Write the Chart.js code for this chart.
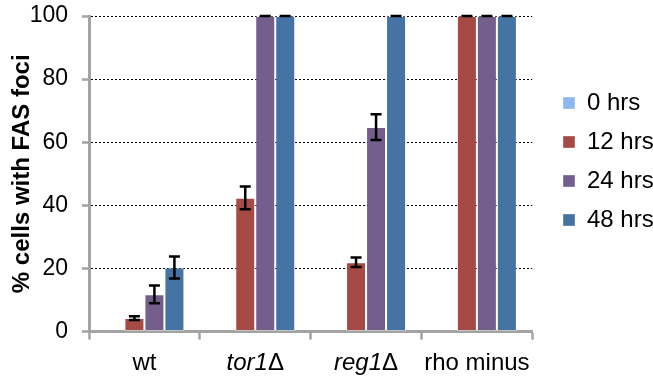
<!DOCTYPE html>
<html>
<head>
<meta charset="utf-8">
<script src="https://cdn.jsdelivr.net/npm/chart.js@4/dist/chart.umd.min.js"></script>
<style>
  html, body { margin: 0; padding: 0; background: #fff; }
  #wrap { width: 653px; height: 383px; }
</style>
</head>
<body>
<div id="wrap"><canvas id="chart"></canvas></div>
<script>
// categories and values (% cells with FAS foci)
const categories = ["wt", "tor1Δ", "reg1Δ", "rho minus"];
const seriesNames = ["0 hrs", "12 hrs", "24 hrs", "48 hrs"];
const hrs0 = [0, 0, 0, 0];
const hrs12 = [4.3, 42.4, 22.0, 100];
const hrs24 = [11.8, 100, 64.8, 100];
const hrs48 = [20.3, 100, 100, 100];
// error bar half-lengths (null = no bar drawn)
const err0 = [null, null, null, null];
const err12 = [0.6, 3.6, 1.5, 0];
const err24 = [2.8, 0, 4.1, 0];
const err48 = [3.5, 0, 0, 0];

// how each label is split into italic / upright pieces
const labelParts = {
    "wt": [["wt", false]],
    "tor1Δ": [["tor1", true], ["Δ", false]],
    "reg1Δ": [["reg1", true], ["Δ", false]],
    "rho minus": [["rho minus", false]],
};

const colors = ["#8db9ec", "#a54a44", "#745e8c", "#4573a3"];
const axisGray = "#a3a3a3";
const FONT = "'Liberation Sans', Arial, sans-serif";

const errorBars = {
    id: "errorBars",
    afterDatasetsDraw(chart) {
        const { ctx } = chart;
        const yScale = chart.scales.y;
        chart.data.datasets.forEach((ds, i) => {
            const meta = chart.getDatasetMeta(i);
            meta.data.forEach((bar, j) => {
                const e = ds.errors[j];
                if (e === null || e === undefined) return;
                const v = ds.data[j];
                const yTop = yScale.getPixelForValue(v + e);
                const yBot = yScale.getPixelForValue(v - e);
                ctx.save();
                ctx.strokeStyle = "#000";
                ctx.lineWidth = 2.5;
                ctx.beginPath();
                ctx.moveTo(bar.x, yTop);
                ctx.lineTo(bar.x, yBot);
                ctx.moveTo(bar.x - 5.5, yTop);
                ctx.lineTo(bar.x + 5.5, yTop);
                ctx.moveTo(bar.x - 5.5, yBot);
                ctx.lineTo(bar.x + 5.5, yBot);
                ctx.stroke();
                ctx.restore();
            });
        });
    },
};

// category labels with italic gene names
const mixedLabels = {
    id: "mixedLabels",
    afterDraw(chart) {
        const { ctx } = chart;
        const xScale = chart.scales.x;
        ctx.save();
        ctx.fillStyle = "#000";
        ctx.textBaseline = "middle";
        ctx.textAlign = "left";
        categories.forEach((cat, i) => {
            const parts = labelParts[cat];
            let total = 0;
            parts.forEach(([t, it]) => {
                ctx.font = (it ? "italic " : "") + "24px " + FONT;
                total += ctx.measureText(t).width;
            });
            let x = xScale.getPixelForValue(i) - total / 2;
            const y = xScale.top + 32;
            parts.forEach(([t, it]) => {
                ctx.font = (it ? "italic " : "") + "24px " + FONT;
                ctx.fillText(t, x, y);
                x += ctx.measureText(t).width;
            });
        });
        ctx.restore();
    },
};

const moveLegend = {
    id: "moveLegend",
    afterLayout(chart) {
        const lg = chart.legend;
        const w = lg.right - lg.left;
        lg.left = 548;
        lg.right = lg.left + w;
        lg.top = 76;
    },
};

const seriesData = [hrs0, hrs12, hrs24, hrs48];
const seriesErr = [err0, err12, err24, err48];

const datasets = seriesNames.map((name, i) => ({
    label: name,
    data: seriesData[i],
    errors: seriesErr[i],
    backgroundColor: colors[i],
    borderColor: "rgba(255,255,255,0.35)",
    borderWidth: 1,
    borderSkipped: false,
    categoryPercentage: 0.722,
    barPercentage: 1.0,
}));

new Chart(document.getElementById("chart"), {
    type: "bar",
    data: { labels: categories, datasets },
    options: {
        responsive: true,
        maintainAspectRatio: false,
        animation: false,
        layout: { padding: { top: 0, right: 5, bottom: 5, left: 0 } },
        plugins: {
            tooltip: { enabled: false },
            legend: {
                position: "right",
                align: "start",
                labels: {
                    boxWidth: 12,
                    boxHeight: 12,
                    padding: 15,
                    color: "#000",
                    font: { family: FONT, size: 24 },
                },
            },
        },
        scales: {
            x: {
                grid: {
                    offset: true,
                    drawOnChartArea: false,
                    tickLength: 8,
                    tickColor: axisGray,
                    tickWidth: 2.5,
                },
                border: { color: axisGray, width: 3 },
                ticks: {
                    color: "rgba(0,0,0,0)",
                    padding: 6,
                    font: { family: FONT, size: 22 },
                },
            },
            y: {
                min: 0,
                max: 100,
                afterFit: s => { s.width = 89; s.paddingTop = 16; },
                ticks: {
                    stepSize: 20,
                    color: "#000",
                    padding: 14,
                    font: { family: FONT, size: 23 },
                },
                grid: {
                    color: c => (c.tick && c.tick.value === 0 ? "rgba(0,0,0,0)" : "#000"),
                    lineWidth: 1,
                    tickLength: 7,
                    tickColor: axisGray,
                    tickWidth: 2.5,
                },
                border: { color: axisGray, width: 3, dash: [2, 2] },
                title: {
                    display: true,
                    text: "% cells with FAS foci",
                    color: "#000",
                    padding: { top: 8, bottom: 0 },
                    font: { family: FONT, size: 24, weight: "bold" },
                },
            },
        },
    },
    plugins: [errorBars, mixedLabels, moveLegend],
});
</script>
</body>
</html>
